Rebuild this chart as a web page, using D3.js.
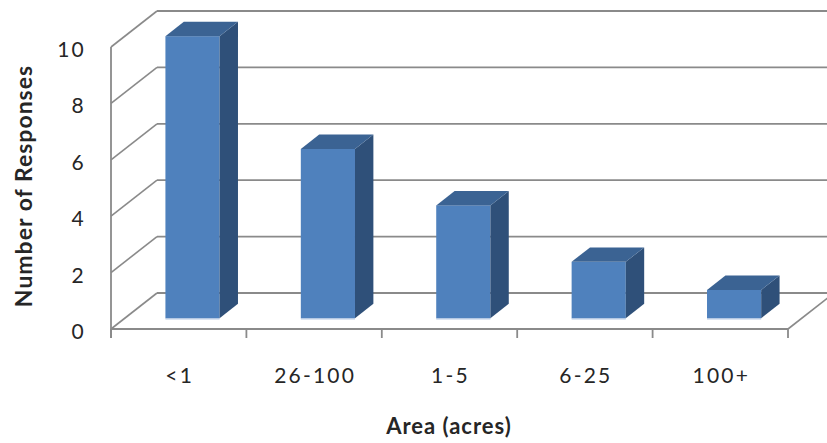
<!DOCTYPE html>
<html>
<head>
<meta charset="utf-8">
<script src="https://cdn.jsdelivr.net/npm/d3@7"></script>
<style>
  html, body { margin: 0; padding: 0; background: #ffffff; }
  svg { display: block; }
  text { font-family: Lato, "Open Sans", sans-serif; fill: #262626; }
</style>
</head>
<body>
<svg id="chart" width="827" height="443"></svg>
<script>
// ---- data ----
const categories = ["<1", "26-100", "1-5", "6-25", "100+"];
const responses = [10, 6, 4, 2, 1];
const yTicks = [0, 2, 4, 6, 8, 10];
const xTitle = "Area (acres)";
const yTitle = "Number of Responses";

// ---- layout ----
const W = 827, H = 443;
const plotLeft = 111, plotRight = 788;
const floorY = 329, topY = 47;
const depthX = 46, depthY = -36;      // full depth of the 3D box
const barD0 = 0.3, barD1 = 0.7;       // bar position within depth

const svg = d3.select("#chart");

const x = d3.scaleBand().domain(categories).range([plotLeft, plotRight])
  .paddingInner(0.6).paddingOuter(0.3);
const xTick = d3.scaleLinear().domain([0, categories.length]).range([plotLeft, plotRight]);
const y = d3.scaleLinear().domain([0, 10]).range([floorY, topY]);

const gridColor = "#8a8a8a";
const g = svg.append("g");

// back wall gridlines
g.selectAll("line.grid").data(yTicks).join("line")
  .attr("class", "grid")
  .attr("x1", plotLeft + depthX).attr("x2", W + 60)
  .attr("y1", d => y(d) + depthY).attr("y2", d => y(d) + depthY)
  .attr("stroke", gridColor).attr("stroke-width", 1.8);

// left wall diagonals
g.selectAll("line.side").data(yTicks).join("line")
  .attr("class", "side")
  .attr("x1", plotLeft).attr("y1", d => y(d))
  .attr("x2", plotLeft + depthX).attr("y2", d => y(d) + depthY)
  .attr("stroke", gridColor).attr("stroke-width", 1.6);

// floor: right diagonal
g.append("line")
  .attr("x1", plotRight).attr("y1", floorY)
  .attr("x2", plotRight + depthX).attr("y2", floorY + depthY)
  .attr("stroke", gridColor).attr("stroke-width", 1.6);

// front floor edge (x axis)
g.append("line")
  .attr("x1", plotLeft).attr("x2", plotRight)
  .attr("y1", floorY).attr("y2", floorY)
  .attr("stroke", gridColor).attr("stroke-width", 1.8);

// vertical axis (front left edge)
g.append("line")
  .attr("x1", plotLeft).attr("x2", plotLeft)
  .attr("y1", y(10)).attr("y2", floorY + 9)
  .attr("stroke", gridColor).attr("stroke-width", 1.8);

// x ticks
g.selectAll("line.xtick").data(d3.range(categories.length + 1)).join("line")
  .attr("class", "xtick")
  .attr("x1", d => xTick(d)).attr("x2", d => xTick(d))
  .attr("y1", floorY).attr("y2", floorY + 9)
  .attr("stroke", gridColor).attr("stroke-width", 1.8);

// ---- bars ----
const ox0 = depthX * barD0, oy0 = depthY * barD0;
const odx = depthX * (barD1 - barD0), ody = depthY * (barD1 - barD0);
const bars = g.selectAll("g.bar").data(categories.map((c, i) => ({ c, v: responses[i] })))
  .join("g").attr("class", "bar");

bars.each(function (d) {
  const gb = d3.select(this);
  const x0 = x(d.c) + ox0, x1 = x0 + x.bandwidth();
  const yb = y(0) + oy0, yt = y(d.v) + oy0;
  // front face
  gb.append("rect")
    .attr("x", x0).attr("y", yt)
    .attr("width", x1 - x0).attr("height", yb - yt)
    .attr("fill", "#4f81bd");
  // subtle light bottom edge
  gb.append("line")
    .attr("x1", x0).attr("x2", x1)
    .attr("y1", yb + 0.5).attr("y2", yb + 0.5)
    .attr("stroke", "#b4c8e3").attr("stroke-width", 1.5);
  // side face
  gb.append("path")
    .attr("d", `M${x1},${yt} L${x1 + odx},${yt + ody} L${x1 + odx},${yb + ody} L${x1},${yb} Z`)
    .attr("fill", "#2f5079");
  // top face
  gb.append("path")
    .attr("d", `M${x0},${yt} L${x0 + odx},${yt + ody} L${x1 + odx},${yt + ody} L${x1},${yt} Z`)
    .attr("fill", "#3b6393");
});

// ---- labels ----
svg.selectAll("text.ylab").data(yTicks).join("text")
  .attr("class", "ylab")
  .attr("x", 86).attr("y", d => y(d) + 10)
  .attr("text-anchor", "end")
  .style("font-size", "21px").style("letter-spacing", "2.2px")
  .text(d => d);

svg.selectAll("text.xlab").data(categories).join("text")
  .attr("class", "xlab")
  .attr("x", d => x(d) + x.bandwidth() / 2 + 1).attr("y", 383)
  .attr("text-anchor", "middle")
  .style("font-size", "21px").style("letter-spacing", "2.2px")
  .text(d => d);

svg.append("text")
  .attr("x", 449).attr("y", 434)
  .attr("text-anchor", "middle")
  .style("font-size", "22px").style("font-weight", "bold").style("letter-spacing", "1px")
  .text(xTitle);

svg.append("text")
  .attr("transform", "translate(32,186) rotate(-90)")
  .attr("text-anchor", "middle")
  .style("font-size", "23px").style("font-weight", "bold").style("letter-spacing", "1px")
  .text(yTitle);
</script>
</body>
</html>
